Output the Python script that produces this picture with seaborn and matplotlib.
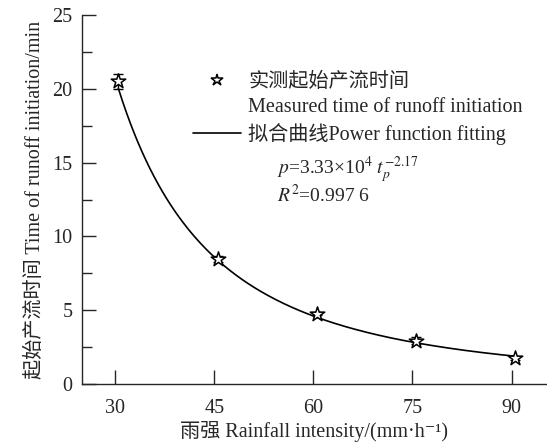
import matplotlib
matplotlib.use("Agg")
import matplotlib.pyplot as plt
from matplotlib.ticker import MultipleLocator
from matplotlib.lines import Line2D
import seaborn as sns
import numpy as np
import pandas as pd

# measured points
intensity = [30.5, 45.5, 60.5, 75.5, 90.5]
runoff_time = [20.5, 8.45, 4.75, 2.95, 1.75]
runoff_err = [0.5, 0.2, 0.1, 0.25, 0.12]
x_ticks = [30, 45, 60, 75, 90]

# power fit coefficients from the chart
fit_a = 3.33e4
fit_b = -2.17

sns.set_style("ticks")
plt.rcParams["font.family"] = ["Liberation Serif", "Noto Sans CJK SC", "DejaVu Serif"]
plt.rcParams["mathtext.fontset"] = "stix"

df = pd.DataFrame({"intensity": intensity, "time": runoff_time})
xs = np.linspace(intensity[0], intensity[-1], 200)
fit_df = pd.DataFrame({"intensity": xs, "time": fit_a * xs ** fit_b})

fig = plt.figure(figsize=(5.47, 4.43), dpi=100)
ax = fig.add_axes([0.15, 0.133, 0.848, 0.833])

sns.lineplot(data=fit_df, x="intensity", y="time", color="black", lw=1.2, ax=ax,
             legend=False)
ax.errorbar(intensity, runoff_time, yerr=runoff_err, fmt="none", ecolor="black",
            elinewidth=1, capsize=3.5, capthick=1)
sns.scatterplot(data=df, x="intensity", y="time", marker="*", s=120, color="white",
                edgecolor="black", linewidth=1.1, ax=ax, zorder=5, legend=False)

ax.set_xlim(25, 95.2)
ax.set_ylim(0, 25)
ax.set_xticks(x_ticks)
ax.yaxis.set_major_locator(MultipleLocator(5))
ax.yaxis.set_minor_locator(MultipleLocator(2.5))
ax.tick_params(axis="both", which="major", direction="in", length=10, width=1,
               labelsize=14.5)
ax.tick_params(axis="x", which="major", pad=11)
ax.tick_params(axis="y", which="major", pad=7)
ax.tick_params(axis="y", which="minor", direction="in", length=7, width=1)
sns.despine(ax=ax)
for s in ["left", "bottom"]:
    ax.spines[s].set_linewidth(1)

ax.set_xlabel("雨强 Rainfall intensity/(mm·h⁻¹)", fontsize=14.5, labelpad=2)
ax.set_ylabel("起始产流时间 Time of runoff initiation/min", fontsize=14.5, labelpad=5)

star_h = Line2D([], [], ls="none", marker="*", markersize=9, markerfacecolor="white",
                markeredgecolor="black", markeredgewidth=1.1)
blank_h = Line2D([], [], ls="none")
line_h = Line2D([], [], color="black", lw=1.2)
ax.legend([star_h, blank_h, line_h],
          ["实测起始产流时间", "Measured time of runoff initiation",
           "拟合曲线Power function fitting"],
          loc="upper left", bbox_to_anchor=(0.222, 0.866),
          frameon=False, fontsize=14.5, handlelength=2.4, handletextpad=0.35,
          labelspacing=0.3, borderaxespad=0)

ax.text(0.42, 0.58, "$p$=3.33×10$^4$ $t_p^{-2.17}$", transform=ax.transAxes,
        fontsize=14, va="center")
ax.text(0.42, 0.513, "$R^2$=0.997 6", transform=ax.transAxes,
        fontsize=14, va="center")

fig.savefig("out.png", dpi=100)
